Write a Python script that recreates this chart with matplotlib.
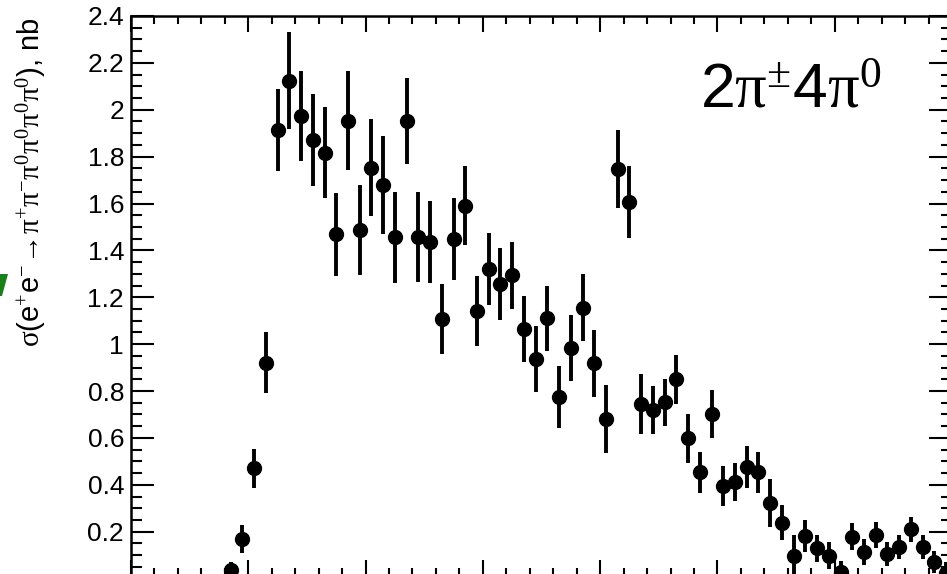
import matplotlib
matplotlib.use('Agg')
import matplotlib.pyplot as plt
from matplotlib.ticker import MultipleLocator, FuncFormatter
from matplotlib.patches import Polygon

plt.rcParams['font.family'] = ['Liberation Sans', 'DejaVu Sans']
plt.rcParams['mathtext.fontset'] = 'custom'
plt.rcParams['mathtext.rm'] = 'Liberation Serif'
plt.rcParams['mathtext.it'] = 'Liberation Serif:italic'
plt.rcParams['mathtext.sf'] = 'Liberation Sans'

# bin centres, GeV
energy = [1.425, 1.475, 1.525, 1.575, 1.625, 1.675, 1.725, 1.775, 1.825, 1.875,
          1.925, 1.975, 2.025, 2.075, 2.125, 2.175, 2.225, 2.275, 2.325, 2.375,
          2.425, 2.475, 2.525, 2.575, 2.625, 2.675, 2.725, 2.775, 2.825, 2.875,
          2.925, 2.975, 3.025, 3.075, 3.125, 3.175, 3.225, 3.275, 3.325, 3.375,
          3.425, 3.475, 3.525, 3.575, 3.625, 3.675, 3.725, 3.775, 3.825, 3.875,
          3.925, 3.975, 4.025, 4.075, 4.125, 4.175, 4.225, 4.275, 4.325, 4.375,
          4.425, 4.475]
# cross section, nb
xsec = [0.037, 0.169, 0.470, 0.921, 1.914, 2.123, 1.975, 1.871, 1.817, 1.469,
        1.954, 1.487, 1.753, 1.679, 1.456, 1.952, 1.456, 1.435, 1.106, 1.447,
        1.591, 1.142, 1.319, 1.257, 1.294, 1.065, 0.937, 1.110, 0.776, 0.982,
        1.156, 0.918, 0.681, 1.746, 1.607, 0.745, 0.719, 0.752, 0.850, 0.598,
        0.453, 0.702, 0.395, 0.411, 0.477, 0.453, 0.324, 0.239, 0.098, 0.183,
        0.129, 0.098, 0.030, 0.179, 0.115, 0.186, 0.104, 0.134, 0.210, 0.134,
        0.070, 0.025]
xsec_err = [0.035, 0.060, 0.082, 0.130, 0.176, 0.207, 0.192, 0.195, 0.195, 0.178,
            0.210, 0.193, 0.208, 0.211, 0.195, 0.183, 0.192, 0.175, 0.149, 0.175,
            0.167, 0.149, 0.154, 0.154, 0.144, 0.142, 0.140, 0.139, 0.132, 0.141,
            0.144, 0.142, 0.144, 0.166, 0.155, 0.127, 0.103, 0.100, 0.105, 0.104,
            0.089, 0.102, 0.085, 0.082, 0.090, 0.089, 0.102, 0.074, 0.090, 0.068,
            0.057, 0.057, 0.046, 0.058, 0.055, 0.055, 0.051, 0.050, 0.053, 0.052,
            0.046, 0.045]

W, H = 947, 574
fig = plt.figure(figsize=(W/100, H/100), dpi=100)
# frame runs slightly past the picture on the right and bottom (cropped figure)
ax = fig.add_axes([131/W, 1-576/H, (952-131)/W, (576-16)/H])

ax.errorbar(energy, xsec, yerr=xsec_err, fmt='o', color='black', ms=10,
            elinewidth=2.8, capsize=0)

ax.set_xlim(1.0, 4.5)
ax.set_ylim(0.011, 2.4)
ax.xaxis.set_major_locator(MultipleLocator(0.5))
ax.xaxis.set_minor_locator(MultipleLocator(0.1))
ax.yaxis.set_major_locator(MultipleLocator(0.2))
ax.yaxis.set_minor_locator(MultipleLocator(0.05))
ax.yaxis.set_major_formatter(FuncFormatter(lambda v, p: '' if abs(v) < 1e-9 else f'{v:g}'))

for s in ax.spines.values():
    s.set_linewidth(1.8)
ax.tick_params(which='both', direction='in', top=True, right=True, width=1.5)
ax.tick_params(axis='y', which='major', length=16.5, labelsize=19, pad=5)
ax.tick_params(axis='y', which='minor', length=8)
ax.tick_params(axis='x', which='major', length=11.5, labelbottom=False)
ax.tick_params(axis='x', which='minor', length=5.8)

ax.text(0.693, 0.8365, r'2$\mathrm{\pi}^{\pm}$4$\mathrm{\pi}^{0}$', transform=ax.transAxes,
        fontsize=45, ha='left', va='baseline')

fig.text(32/W, 1-17/H,
         r'$\mathrm{\sigma}$(e$^{+}$e$^{-}\!\rightarrow\!\mathrm{\pi}^{+}\mathrm{\pi}^{-}\mathrm{\pi}^{0}\mathrm{\pi}^{0}\mathrm{\pi}^{0}\mathrm{\pi}^{0}$), nb',
         rotation=90, ha='center', va='top', fontsize=21)

# green fragment from the neighbouring panel at the left edge
fig.patches.append(Polygon([(0, 1-274/H), (8/W, 1-274/H), (2/W, 1-296/H), (0, 1-296/H)],
                           closed=True, transform=fig.transFigure, facecolor='#1a7f1a',
                           edgecolor='none'))

fig.savefig('out.png', dpi=100)
